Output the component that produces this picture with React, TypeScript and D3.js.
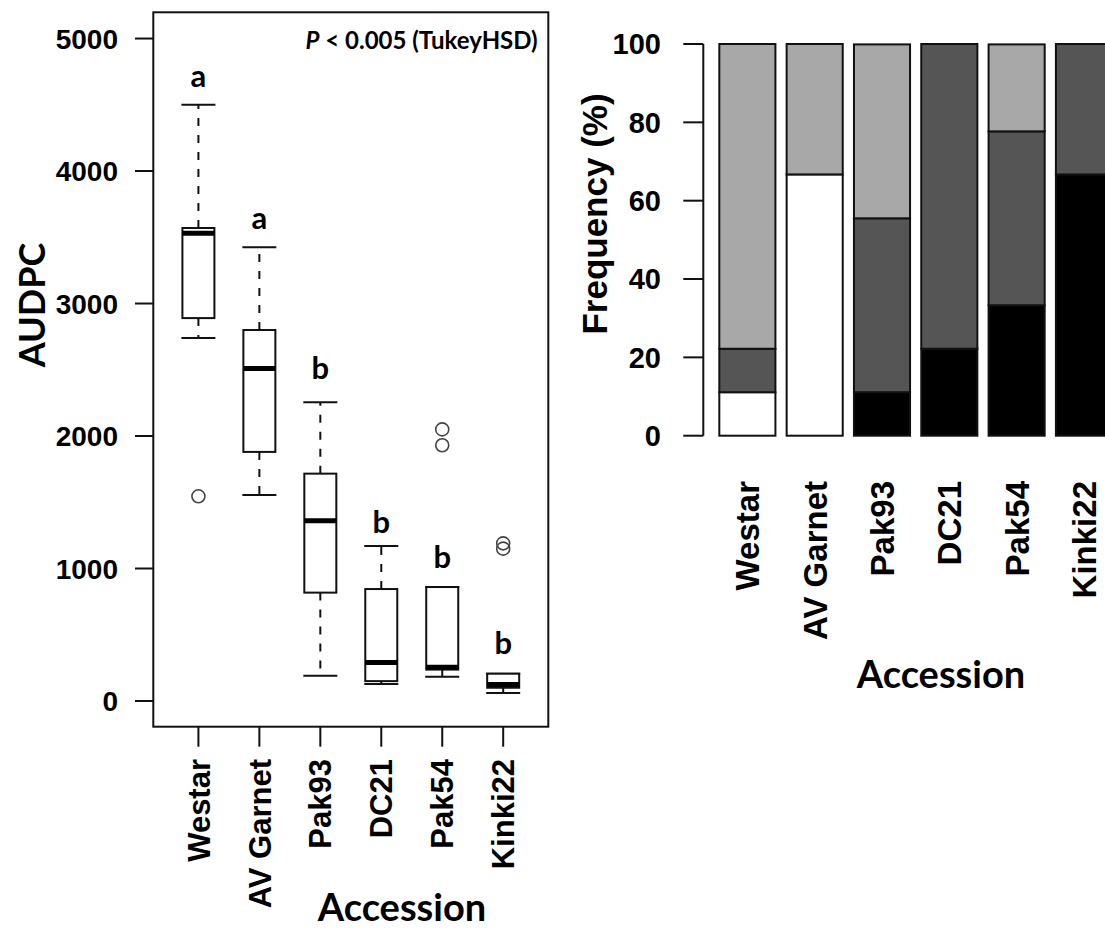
import React, { useEffect, useRef } from "react"
import * as d3 from "d3"

// accessions and box statistics (AUDPC)
const accessions = ["Westar", "AV Garnet", "Pak93", "DC21", "Pak54", "Kinki22"]
const whiskerLow = [2740, 1555, 190, 128, 183, 60]
const q1 = [2890, 1880, 818, 150, 237, 100]
const median = [3530, 2510, 1360, 290, 255, 125]
const q3 = [3570, 2800, 1716, 845, 860, 206]
const whiskerHigh = [4500, 3425, 2255, 1170, 860, 206]
const outliers = [[1545], [], [], [], [2050, 1930], [1190, 1150]]
const groupLetters = ["a", "a", "b", "b", "b", "b"]
const letterPos = [4633, 3561, 2429, 1268, 1003, 355]
const audpcTicks = [0, 1000, 2000, 3000, 4000, 5000]

// frequency (%) of each class, stacked from the bottom
const freqWhite = [11.1, 66.7, 0, 0, 0, 0]
const freqBlack = [0, 0, 11.1, 22.2, 33.3, 66.7]
const freqDark = [11.1, 0, 44.4, 77.8, 44.4, 33.3]
const freqLight = [77.8, 33.3, 44.4, 0, 22.2, 0]
const freqTicks = [0, 20, 40, 60, 80, 100]

const ARIAL = "'Liberation Sans', Arial, sans-serif"
const CALIBRI = "Lato, 'Open Sans', sans-serif"

export default function App() {
    const ref = useRef<SVGSVGElement>(null)

    useEffect(() => {
        const svg = d3.select(ref.current)
        svg.selectAll("*").remove()

        // ---------- left: boxplot ----------
        const left = 153.3, right = 548.3, top = 12.3, bottom = 726.7
        const x = d3.scaleLinear().domain([0.26, 6.74]).range([left, right])
        const y = d3.scaleLinear().domain([-194, 5198]).range([bottom, top])
        const bw = 32

        const g = svg.append("g")
        g.append("rect")
            .attr("x", left).attr("y", top)
            .attr("width", right - left).attr("height", bottom - top)
            .attr("fill", "none").attr("stroke", "#111").attr("stroke-width", 2)

        // y axis
        g.selectAll(".ytick").data(audpcTicks).enter().append("line")
            .attr("x1", 135).attr("x2", left)
            .attr("y1", d => y(d)).attr("y2", d => y(d))
            .attr("stroke", "#111").attr("stroke-width", 2)
        g.selectAll(".ylab").data(audpcTicks).enter().append("text")
            .attr("x", 118).attr("y", d => y(d)).attr("dy", "0.36em")
            .attr("text-anchor", "end")
            .style("font", `bold 28px ${ARIAL}`)
            .text(d => d)

        // x axis
        g.selectAll(".xtick").data(accessions).enter().append("line")
            .attr("x1", (d, i) => x(i + 1)).attr("x2", (d, i) => x(i + 1))
            .attr("y1", bottom).attr("y2", bottom + 20)
            .attr("stroke", "#111").attr("stroke-width", 2)
        g.selectAll(".xlab").data(accessions).enter().append("text")
            .attr("transform", (d, i) => `translate(${x(i + 1)},759) rotate(-90)`)
            .attr("dy", "0.36em").attr("text-anchor", "end")
            .style("font", `bold 31px ${ARIAL}`)
            .text(d => d)

        const boxes = g.selectAll(".box").data(accessions).enter().append("g")
        // whiskers
        boxes.append("line")
            .attr("x1", (d, i) => x(i + 1)).attr("x2", (d, i) => x(i + 1))
            .attr("y1", (d, i) => y(q3[i])).attr("y2", (d, i) => y(whiskerHigh[i]))
            .attr("stroke", "#111").attr("stroke-width", 2).attr("stroke-dasharray", "8,9")
        boxes.append("line")
            .attr("x1", (d, i) => x(i + 1)).attr("x2", (d, i) => x(i + 1))
            .attr("y1", (d, i) => y(q1[i])).attr("y2", (d, i) => y(whiskerLow[i]))
            .attr("stroke", "#111").attr("stroke-width", 2).attr("stroke-dasharray", "8,9")
        // caps
        boxes.append("line")
            .attr("x1", (d, i) => x(i + 1) - bw / 2 - 1).attr("x2", (d, i) => x(i + 1) + bw / 2 + 1)
            .attr("y1", (d, i) => y(whiskerHigh[i])).attr("y2", (d, i) => y(whiskerHigh[i]))
            .attr("stroke", "#111").attr("stroke-width", 2)
        boxes.append("line")
            .attr("x1", (d, i) => x(i + 1) - bw / 2 - 1).attr("x2", (d, i) => x(i + 1) + bw / 2 + 1)
            .attr("y1", (d, i) => y(whiskerLow[i])).attr("y2", (d, i) => y(whiskerLow[i]))
            .attr("stroke", "#111").attr("stroke-width", 2)
        // box
        boxes.append("rect")
            .attr("x", (d, i) => x(i + 1) - bw / 2)
            .attr("y", (d, i) => y(q3[i]))
            .attr("width", bw)
            .attr("height", (d, i) => y(q1[i]) - y(q3[i]))
            .attr("fill", "#fff").attr("stroke", "#111").attr("stroke-width", 2)
        // median
        boxes.append("line")
            .attr("x1", (d, i) => x(i + 1) - bw / 2).attr("x2", (d, i) => x(i + 1) + bw / 2)
            .attr("y1", (d, i) => y(median[i])).attr("y2", (d, i) => y(median[i]))
            .attr("stroke", "#000").attr("stroke-width", 5)
        // outliers
        boxes.selectAll("circle")
            .data((d, i) => outliers[i].map(v => ({ i, v })))
            .enter().append("circle")
            .attr("cx", d => x(d.i + 1)).attr("cy", d => y(d.v)).attr("r", 6.5)
            .attr("fill", "none").attr("stroke", "#444").attr("stroke-width", 1.6)
        // letters
        boxes.append("text")
            .attr("x", (d, i) => x(i + 1)).attr("y", (d, i) => y(letterPos[i]))
            .attr("text-anchor", "middle")
            .style("font", `bold 31px ${CALIBRI}`)
            .text((d, i) => groupLetters[i])

        const ptext = g.append("text")
            .attr("x", 537.7).attr("y", 49).attr("text-anchor", "end")
            .style("font", `bold 24px ${CALIBRI}`)
        ptext.append("tspan").style("font-style", "italic").text("P")
        ptext.append("tspan").text(" < 0.005 (TukeyHSD)")

        g.append("text")
            .attr("transform", "translate(45,305) rotate(-90)")
            .attr("text-anchor", "middle")
            .style("font", `bold 36px ${CALIBRI}`)
            .text("AUDPC")
        g.append("text")
            .attr("x", 402).attr("y", 921).attr("text-anchor", "middle")
            .style("font", `bold 38px ${CALIBRI}`)
            .text("Accession")

        // ---------- right: stacked bars ----------
        const bx = d3.scaleLinear().domain([0, 7.2]).range([708.1, 1112])
        const by = d3.scaleLinear().domain([0, 100]).range([435.7, 44])
        const h = svg.append("g")

        h.append("line")
            .attr("x1", 703.3).attr("x2", 703.3)
            .attr("y1", by(0)).attr("y2", by(100))
            .attr("stroke", "#111").attr("stroke-width", 2)
        h.selectAll(".ftick").data(freqTicks).enter().append("line")
            .attr("x1", 683.3).attr("x2", 703.3)
            .attr("y1", d => by(d)).attr("y2", d => by(d))
            .attr("stroke", "#111").attr("stroke-width", 2)
        h.selectAll(".flab").data(freqTicks).enter().append("text")
            .attr("x", 661).attr("y", d => by(d)).attr("dy", "0.36em")
            .attr("text-anchor", "end")
            .style("font", `bold 29px ${ARIAL}`)
            .text(d => d)

        const series = [
            { vals: freqWhite, fill: "#ffffff" },
            { vals: freqBlack, fill: "#000000" },
            { vals: freqDark, fill: "#555555" },
            { vals: freqLight, fill: "#a8a8a8" },
        ]
        accessions.forEach((name, i) => {
            let base = 0
            series.forEach(s => {
                const v = s.vals[i]
                if (v > 0) {
                    h.append("rect")
                        .attr("x", bx(0.2 + 1.2 * i))
                        .attr("width", bx(1.2) - bx(0.2))
                        .attr("y", by(base + v))
                        .attr("height", by(base) - by(base + v))
                        .attr("fill", s.fill).attr("stroke", "#111").attr("stroke-width", 2)
                }
                base += v
            })
        })

        h.selectAll(".blab").data(accessions).enter().append("text")
            .attr("transform", (d, i) => `translate(${bx(0.7 + 1.2 * i)},481) rotate(-90)`)
            .attr("dy", "0.36em").attr("text-anchor", "end")
            .style("font", `bold 33px ${ARIAL}`)
            .text(d => d)

        h.append("text")
            .attr("transform", "translate(607,214) rotate(-90)")
            .attr("text-anchor", "middle")
            .style("font", `bold 35px ${ARIAL}`)
            .text("Frequency (%)")
        h.append("text")
            .attr("x", 941).attr("y", 688).attr("text-anchor", "middle")
            .style("font", `bold 38px ${CALIBRI}`)
            .text("Accession")
    }, [])

    return (
        <svg ref={ref} width={1105} height={933}
            style={{ position: "absolute", left: 0, top: 0, background: "#fff" }} />
    )
}
